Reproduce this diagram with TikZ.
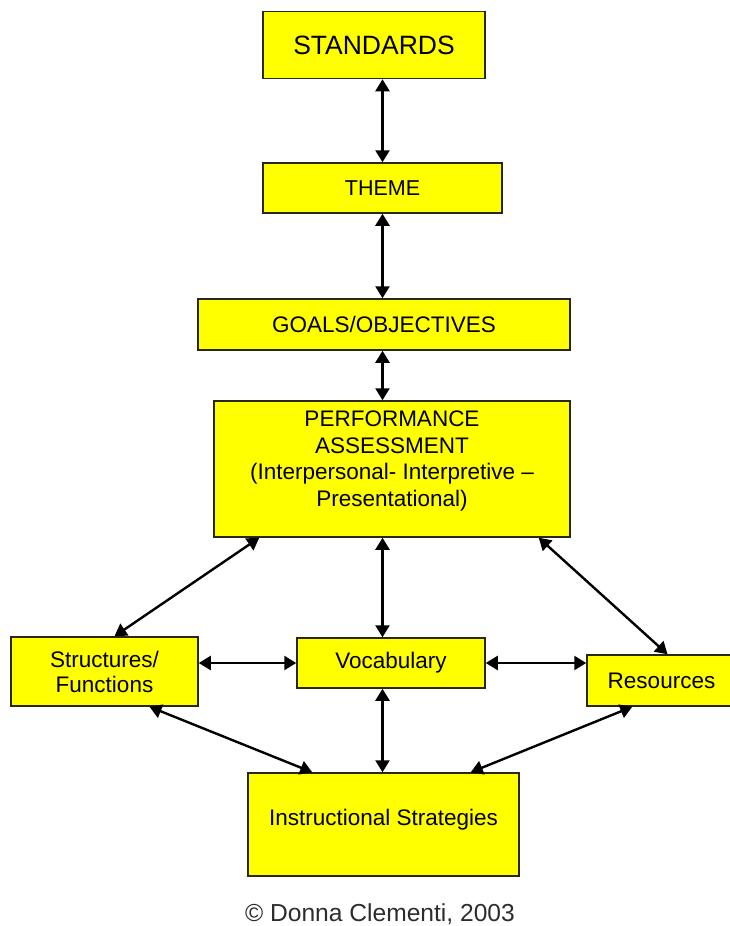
\documentclass[tikz,border=0pt]{standalone}
\usepackage{fontspec}
\setmainfont{Liberation Sans}
\usetikzlibrary{arrows.meta}
\definecolor{boxyellow}{RGB}{255,255,0}
\definecolor{boxline}{RGB}{40,40,20}
\definecolor{copygray}{RGB}{45,45,45}
\begin{document}
\begin{tikzpicture}[x=1pt,y=-1pt,
  box/.style={draw=boxline, line width=1.5pt, fill=boxyellow, inner sep=0pt, align=center,
    font=\fontsize{22.5}{26}\selectfont},
  conn/.style={line width=2.4pt, black, {Triangle[length=12pt,width=14pt]}-{Triangle[length=12pt,width=14pt]}}]
\clip (0,0) rectangle (730,926);
\fill[white] (0,0) rectangle (730,926);

\node[box, minimum width=222pt, minimum height=67pt, font=\fontsize{26.5}{30}\selectfont] (std) at (374,45) {STANDARDS};
\node[box, minimum width=239pt, minimum height=50pt, font=\fontsize{21.5}{24}\selectfont] (theme) at (382.5,188) {THEME};
\node[box, minimum width=372pt, minimum height=51pt] (goals) at (384,324.5) {GOALS/OBJECTIVES};
\node[box, minimum width=356pt, minimum height=136pt] (perf) at (392,469) {};
\node[align=center, font=\fontsize{22.5}{26.5}\selectfont, inner sep=0pt] (perft) at (392,461) {PERFORMANCE\\ASSESSMENT\\(Interpersonal- Interpretive --\\Presentational)};
\node[box, minimum width=187pt, minimum height=69pt, font=\fontsize{22.5}{25}\selectfont] (struct) at (104.5,671.5) {Structures/\\Functions};
\node[box, minimum width=188pt, minimum height=50pt] (vocab) at (391,663) {Vocabulary};
\node[box, minimum width=149pt, minimum height=51pt] (res) at (661.5,680.5) {Resources};
\node[box, minimum width=271pt, minimum height=103pt] (instr) at (383.5,824.5) {};
\node[font=\fontsize{22.5}{26}\selectfont, inner sep=0pt] (instrt) at (383.5,820) {Instructional Strategies};

\node[font=\fontsize{24.6}{28}\selectfont, text=copygray, inner sep=0pt] (copy) at (380,914) {\textcopyright{} Donna Clementi, 2003};

% vertical connectors
\draw[conn] (std.south -| theme.south) -- (theme.north);
\draw[conn] (theme.south) -- (theme.south |- goals.north);
\draw[conn] (theme.south |- goals.south) -- (theme.south |- perf.north);
\draw[conn] (theme.south |- perf.south) -- (theme.south |- vocab.north);
\draw[conn] (theme.south |- vocab.south) -- (theme.south |- instr.north);

% diagonal connectors
\draw[conn] ([xshift=46pt]perf.south west) -- ([xshift=10pt]struct.north);
\draw[conn] ([xshift=-32pt]perf.south east) -- ([xshift=6pt]res.north);
\draw[conn] ([xshift=45pt]struct.south) -- ([xshift=65pt]instr.north west);
\draw[conn] ([xshift=46pt]res.south west) -- ([xshift=-49pt]instr.north east);

% horizontal connectors
\draw[conn] (struct.east |- vocab.center) -- (vocab.west);
\draw[conn] (vocab.east) -- (res.west |- vocab.center);
\end{tikzpicture}
\end{document}
